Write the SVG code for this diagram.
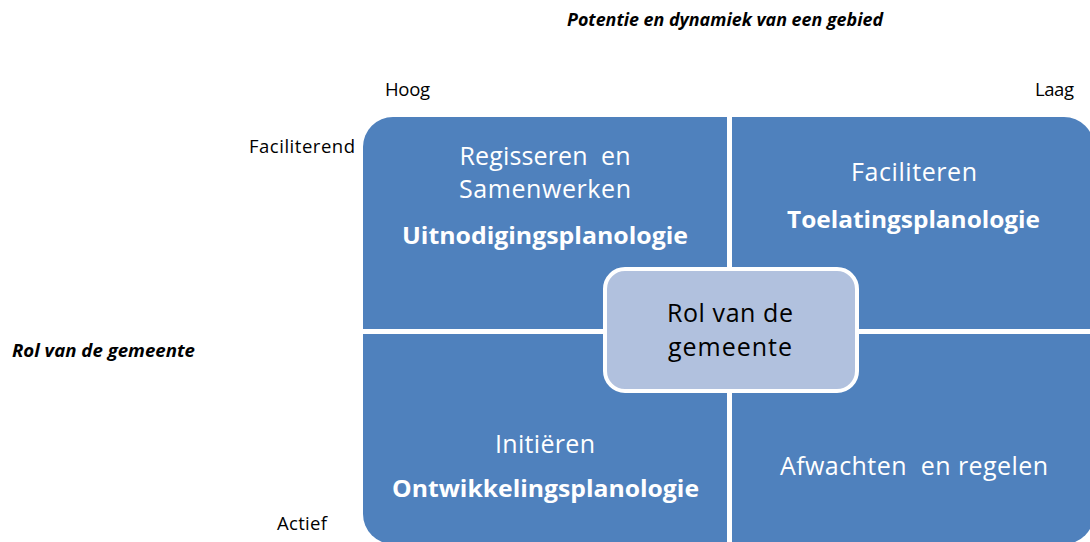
<svg xmlns="http://www.w3.org/2000/svg" width="1090" height="542" viewBox="0 0 1090 542">
<style>
.q{fill:#4F81BD}
.c{fill:#B1C1DE;stroke:#FFFFFF;stroke-width:4}
.t{font-family:"Open Sans","Noto Sans",sans-serif;fill:#FFFFFF;text-anchor:middle;white-space:pre}
.r{font-size:25px}
.b{font-size:24px;font-weight:bold}
.ct{font-family:"Open Sans","Noto Sans",sans-serif;font-size:25px;fill:#000000;text-anchor:middle}
.l{font-family:"Open Sans","Noto Sans",sans-serif;font-size:18.5px;fill:#000000}
.li{font-family:"Open Sans","Noto Sans",sans-serif;font-size:17.5px;font-weight:bold;font-style:italic;fill:#000000}
</style>
<rect width="1090" height="542" fill="#FFFFFF"/>
<g id="labels">
<text class="li" x="567" y="26" textLength="316" lengthAdjust="spacingAndGlyphs">Potentie en dynamiek van een gebied</text>
<text class="l" x="385" y="96" textLength="45">Hoog</text>
<text class="l" x="1035" y="96" textLength="39">Laag</text>
<text class="l" x="249" y="153" textLength="106">Faciliterend</text>
<text class="li" x="12" y="357" textLength="183" lengthAdjust="spacingAndGlyphs">Rol van de gemeente</text>
<text class="l" x="277" y="530" textLength="50">Actief</text>
</g>
<g id="connectors"></g>
<g id="q-regisseren">
<path class="q" d="M363,329 V147 A30,30 0 0 1 393,117 H727 V329 Z"/>
<text class="t r" x="545" y="165" textLength="171">Regisseren  en</text>
<text class="t r" x="545" y="198" textLength="172">Samenwerken</text>
<text class="t b" x="545" y="244" textLength="286" lengthAdjust="spacingAndGlyphs">Uitnodigingsplanologie</text>
</g>
<g id="q-faciliteren">
<path class="q" d="M732,117 H1064 A30,30 0 0 1 1094,147 V329 H732 Z"/>
<text class="t r" x="914" y="181" textLength="126">Faciliteren</text>
<text class="t b" x="913.5" y="228" textLength="253" lengthAdjust="spacingAndGlyphs">Toelatingsplanologie</text>
</g>
<g id="q-initieren">
<path class="q" d="M363,334 H727 V544 H393 A30,30 0 0 1 363,514 Z"/>
<text class="t r" x="545" y="453" textLength="100">Initiëren</text>
<text class="t b" x="545.5" y="497" textLength="307" lengthAdjust="spacingAndGlyphs">Ontwikkelingsplanologie</text>
</g>
<g id="q-afwachten">
<path class="q" d="M732,334 H1094 V514 A30,30 0 0 1 1064,544 H732 Z"/>
<text class="t r" x="914" y="475" textLength="268">Afwachten  en regelen</text>
</g>
<g id="center">
<rect class="c" x="605" y="269" width="252" height="122" rx="20" ry="20"/>
<text class="ct" x="730" y="322" textLength="126">Rol van de</text>
<text class="ct" x="730" y="356" textLength="124">gemeente</text>
</g>
</svg>
